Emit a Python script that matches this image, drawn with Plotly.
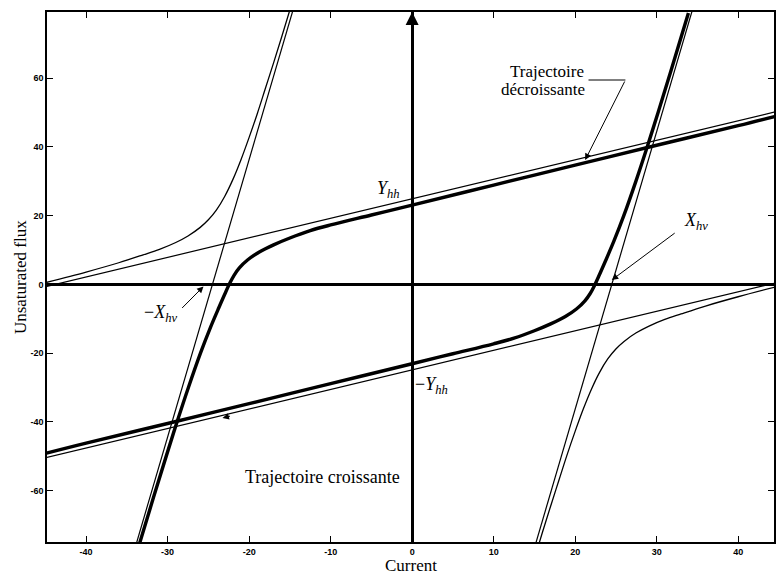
import plotly.graph_objects as go

# ---- data ----
# thick "décroissante" trajectory (upper branch, right to left)
dec_x = [45, 40, 30, 20, 10, 0, -5, -10, -12.5, -15, -17, -18.8, -20.2, -21.2, -21.85, -22.35,
         -22.98, -23.72, -24.74, -25.97, -27.45, -28.84, -30.17, -31.73, -33.9]
dec_y = [49.2, 46.2, 40.5, 34.7, 28.9, 23.1, 20.2, 17.3, 15.65, 13.5, 11.5, 9.35, 7.1, 4.8, 2.65, 0.45,
         -2.8, -6.8, -12.5, -20.0, -30.0, -40.0, -50.0, -62.0, -79.0]
# thick "croissante" trajectory (lower branch, left to right)
cro_x = [-45, -40, -30, -20, -10, 0, 5, 10, 12.5, 15, 17, 18.8, 20.2, 21.2, 21.85, 22.35,
         22.98, 23.72, 24.74, 25.97, 27.45, 28.84, 30.17, 31.73, 33.9]
cro_y = [-49.2, -46.2, -40.5, -34.7, -28.9, -23.1, -20.2, -17.3, -15.65, -13.5, -11.5, -9.35, -7.1, -4.8, -2.65, -0.45,
         2.8, 6.8, 12.5, 20.0, 30.0, 40.0, 50.0, 62.0, 79.0]
# thin hyperbola branches
hyp1_x = [-45, -40, -36, -33, -31, -29, -27.5, -26, -25, -24, -23, -22, -21, -20, -19, -18, -17, -16, -15]
hyp1_y = [0.5, 3.6, 6.3, 8.6, 10.2, 12.2, 14.1, 16.6, 18.8, 21.7, 25.6, 30.5, 36.3, 42.8, 49.7, 57.1, 64.5, 72.1, 79.9]
hyp2_x = [45, 40, 36, 33, 31, 29, 27.5, 26, 25, 24, 23, 22, 21, 20, 19, 18, 17, 16, 15]
hyp2_y = [-0.5, -3.6, -6.3, -8.6, -10.2, -12.2, -14.1, -16.6, -18.8, -21.7, -25.6, -30.5, -36.3, -42.8, -49.7, -57.1, -64.5, -72.1, -79.9]
# thin asymptote lines
lin1_x = [-45, 45]
lin1_y = [-0.66, 50.46]
lin2_x = [-45, 45]
lin2_y = [-50.46, 0.66]
stp1_x = [-34.4, -14.6]
stp1_y = [-80, 80]
stp2_x = [14.6, 34.4]
stp2_y = [-80, 80]

x_ticks = [-40, -30, -20, -10, 0, 10, 20, 30, 40]
y_ticks = [-60, -40, -20, 0, 20, 40, 60]

fig = go.Figure()

thin = dict(color="black", width=1.2)
thin_curve = dict(color="black", width=1.3, shape="spline", smoothing=1.0)
thick = dict(color="black", width=3.4, shape="spline", smoothing=1.0)

for xs, ys in [(lin1_x, lin1_y), (lin2_x, lin2_y), (stp1_x, stp1_y), (stp2_x, stp2_y)]:
    fig.add_trace(go.Scatter(x=xs, y=ys, mode="lines", line=thin, hoverinfo="skip"))
for xs, ys in [(hyp1_x, hyp1_y), (hyp2_x, hyp2_y)]:
    fig.add_trace(go.Scatter(x=xs, y=ys, mode="lines", line=thin_curve, hoverinfo="skip"))
for xs, ys in [(dec_x, dec_y), (cro_x, cro_y)]:
    fig.add_trace(go.Scatter(x=xs, y=ys, mode="lines", line=thick, hoverinfo="skip"))

tickfont = dict(family="Liberation Sans", size=9, color="black", weight="bold")
axis_common = dict(
    showline=True, linecolor="black", linewidth=1.5, mirror="ticks",
    ticks="inside", ticklen=6, tickwidth=1, tickcolor="black",
    showgrid=False, zeroline=True, zerolinecolor="black", zerolinewidth=2.6,
    tickfont=tickfont,
)

fig.update_layout(
    width=776, height=574,
    margin=dict(l=47, r=0, t=12, b=32),
    paper_bgcolor="white", plot_bgcolor="white",
    showlegend=False,
    xaxis=dict(range=[-44.8, 44.4], tickvals=x_ticks, ticktext=[str(v) for v in x_ticks], **axis_common),
    yaxis=dict(range=[-75, 79.3], tickvals=y_ticks, ticktext=[str(v) for v in y_ticks], **axis_common),
)

serif = "Liberation Serif"
ann = []
# axis titles
ann.append(dict(text="Current", xref="paper", yref="paper", x=0.5, y=-0.044,
                xanchor="center", yanchor="middle", showarrow=False,
                font=dict(family=serif, size=17, color="black")))
ann.append(dict(text="Unsaturated flux", xref="paper", yref="paper", x=-0.037, y=0.5,
                xanchor="center", yanchor="middle", showarrow=False, textangle=-90,
                font=dict(family=serif, size=17, color="black")))
# arrowhead at the top of the vertical axis
ann.append(dict(x=0, y=79.3, xref="x", yref="y", ax=0, ay=16, text="", showarrow=True,
                arrowhead=2, arrowsize=1.3, arrowwidth=2, arrowcolor="black"))
# labels
ann.append(dict(text="Trajectoire", x=16.5, y=62.0, xref="x", yref="y",
                showarrow=False, font=dict(family=serif, size=17, color="black")))
ann.append(dict(text="décroissante", x=16.0, y=56.8, xref="x", yref="y",
                showarrow=False, font=dict(family=serif, size=17, color="black")))
ann.append(dict(text="Trajectoire croissante", x=-11.0, y=-56.1, xref="x", yref="y",
                showarrow=False, font=dict(family=serif, size=18, color="black")))
ann.append(dict(text="<i>Y</i><sub><i>hh</i></sub>", x=-2.9, y=27.5, xref="x", yref="y",
                showarrow=False, font=dict(family=serif, size=18, color="black")))
ann.append(dict(text="−<i>Y</i><sub><i>hh</i></sub>", x=2.4, y=-29.5, xref="x", yref="y",
                showarrow=False, font=dict(family=serif, size=18, color="black")))
ann.append(dict(text="<i>X</i><sub><i>hv</i></sub>", x=34.8, y=18.3, xref="x", yref="y",
                showarrow=False, font=dict(family=serif, size=18, color="black")))
ann.append(dict(text="−<i>X</i><sub><i>hv</i></sub>", x=-30.85, y=-8.6, xref="x", yref="y",
                showarrow=False, font=dict(family=serif, size=18, color="black")))
# leader arrows
ann.append(dict(x=21.23, y=36.2, ax=26.17, ay=59.5, xref="x", yref="y", axref="x", ayref="y",
                text="", showarrow=True, arrowhead=2, arrowsize=1.3, arrowwidth=1, arrowcolor="black"))
ann.append(dict(x=24.49, y=1.27, ax=32.4, ay=15.25, xref="x", yref="y", axref="x", ayref="y",
                text="", showarrow=True, arrowhead=2, arrowsize=1.3, arrowwidth=1, arrowcolor="black"))
ann.append(dict(x=-25.6, y=-0.6, ax=-28.4, ay=-7.3, xref="x", yref="y", axref="x", ayref="y",
                text="", showarrow=True, arrowhead=2, arrowsize=1.3, arrowwidth=1, arrowcolor="black"))
ann.append(dict(x=-23.27, y=-38.9, ax=-22.16, ay=-38.26, xref="x", yref="y", axref="x", ayref="y",
                text="", showarrow=True, arrowhead=2, arrowsize=1.3, arrowwidth=1, arrowcolor="black"))
fig.update_layout(annotations=ann)

# horizontal part of the "décroissante" leader
fig.add_shape(type="line", x0=21.64, y0=59.5, x1=26.17, y1=59.5, xref="x", yref="y",
              line=dict(color="black", width=1))

fig.write_html("out.html")
